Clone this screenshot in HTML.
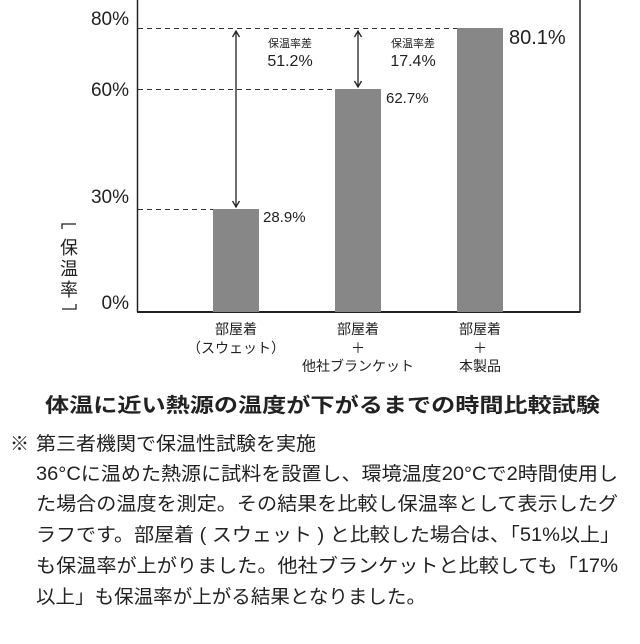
<!DOCTYPE html>
<html><head><meta charset="utf-8"><style>
html,body{margin:0;padding:0;background:#fff;}
svg{display:block;}
text{font-family:"Liberation Sans","Noto Sans CJK JP",sans-serif;fill:#222;}
</style></head><body>
<svg width="640" height="644" viewBox="0 0 640 644">
<line x1="137.5" y1="0" x2="137.5" y2="312" stroke="#222" stroke-width="1.5"/>
<line x1="580" y1="0" x2="580" y2="312" stroke="#222" stroke-width="1.5"/>
<line x1="137" y1="312" x2="580.5" y2="312" stroke="#222" stroke-width="2"/>
<g stroke="#333" stroke-width="1" stroke-dasharray="5,4">
<line x1="138" y1="28.5" x2="457" y2="28.5"/>
<line x1="138" y1="89.5" x2="335" y2="89.5"/>
<line x1="138" y1="209.5" x2="213" y2="209.5"/>
</g>
<rect x="213" y="209" width="46" height="103" fill="#878787"/>
<rect x="335" y="89" width="46" height="223" fill="#878787"/>
<rect x="457" y="28" width="46" height="284" fill="#878787"/>
<g stroke="#222" stroke-width="1.3" fill="none">
<line x1="236" y1="31" x2="236" y2="207"/>
<polyline points="232.5,37 236,31 239.5,37"/>
<polyline points="232.5,201 236,207 239.5,201"/>
<line x1="358" y1="31" x2="358" y2="87"/>
<polyline points="354.5,37 358,31 361.5,37"/>
<polyline points="354.5,81 358,87 361.5,81"/>
</g>
<g font-size="19" text-anchor="end">
<text x="129" y="25">80%</text>
<text x="129" y="96">60%</text>
<text x="129" y="203">30%</text>
<text x="129" y="309">0%</text>
</g>
<g font-size="18" text-anchor="middle">
<text x="69" y="254">保</text>
<text x="69" y="275">温</text>
<text x="69" y="296">率</text>
</g>
<g stroke="#222" stroke-width="1.3" fill="none">
<polyline points="62,229 62,224 76,224"/>
<polyline points="62,309 76,309 76,304"/>
</g>
<text x="263" y="222" font-size="15">28.9%</text>
<text x="386" y="103" font-size="15">62.7%</text>
<text x="509" y="44" font-size="20">80.1%</text>
<g text-anchor="middle">
<text x="290" y="47" font-size="11">保温率差</text>
<text x="290" y="66" font-size="16">51.2%</text>
<text x="413" y="47" font-size="11">保温率差</text>
<text x="413" y="66" font-size="16">17.4%</text>
</g>
<g text-anchor="middle" font-size="14">
<text x="236" y="334">部屋着</text>
<text x="236" y="353">（スウェット）</text>
<text x="358" y="334">部屋着</text>
<text x="358" y="353">＋</text>
<text x="358" y="371">他社ブランケット</text>
<text x="480" y="334">部屋着</text>
<text x="480" y="353">＋</text>
<text x="480" y="371">本製品</text>
</g>
<text x="45" y="412" font-size="20" font-weight="bold" textLength="555" lengthAdjust="spacingAndGlyphs">体温に近い熱源の温度が下がるまでの時間比較試験</text>
<g font-size="19">
<text x="10" y="450">※</text>
<text x="36" y="450" textLength="280" lengthAdjust="spacingAndGlyphs">第三者機関で保温性試験を実施</text>
<text x="36" y="480" textLength="582" lengthAdjust="spacingAndGlyphs">36°Cに温めた熱源に試料を設置し、環境温度20°Cで2時間使用し</text>
<text x="36" y="510" textLength="582" lengthAdjust="spacingAndGlyphs">た場合の温度を測定。その結果を比較し保温率として表示したグ</text>
<text x="36" y="541" textLength="584" lengthAdjust="spacingAndGlyphs">ラフです。部屋着 ( スウェット ) と比較した場合は、「51%以上」</text>
<text x="36" y="572" textLength="582" lengthAdjust="spacingAndGlyphs">も保温率が上がりました。他社ブランケットと比較しても「17%</text>
<text x="36" y="603" textLength="390" lengthAdjust="spacingAndGlyphs">以上」も保温率が上がる結果となりました。</text>
</g>
</svg>
</body></html>
